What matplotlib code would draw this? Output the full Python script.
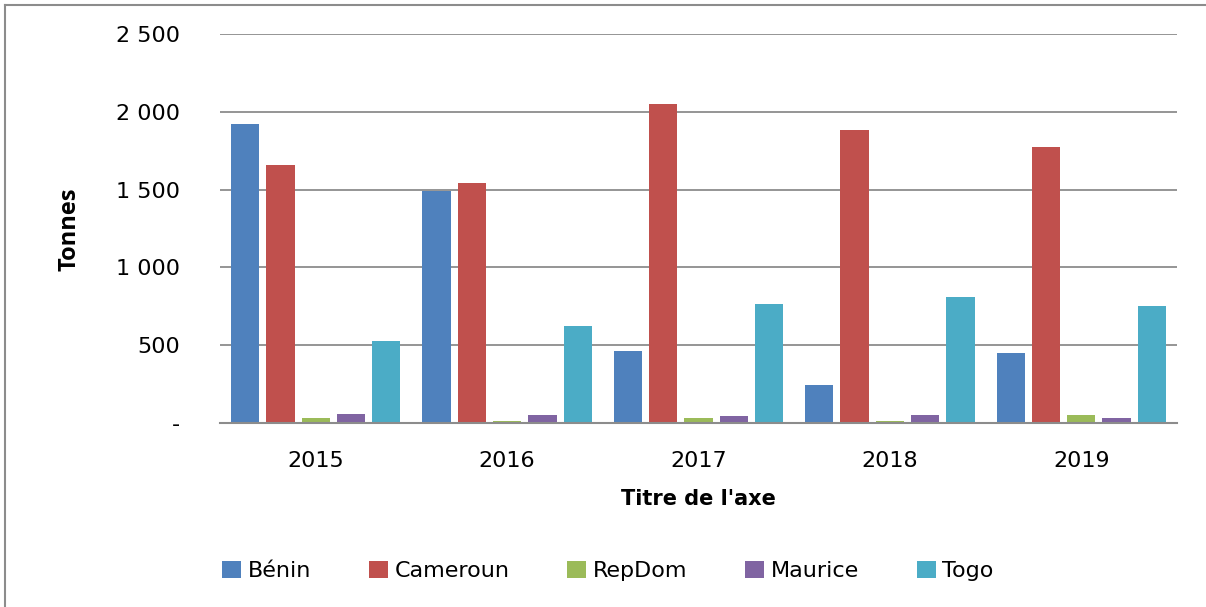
import numpy as np
import matplotlib.pyplot as plt
from matplotlib.lines import Line2D

years = ['2015', '2016', '2017', '2018', '2019']
countries = ['Bénin', 'Cameroun', 'RepDom', 'Maurice', 'Togo']
benin = [1920, 1490, 465, 245, 452]
cameroun = [1660, 1545, 2050, 1884, 1775]
repdom = [30, 15, 34, 10, 49]
maurice = [60, 50, 47, 51, 32]
togo = [528, 625, 765, 810, 755]
series = [benin, cameroun, repdom, maurice, togo]
colors = ['#4F81BD', '#C0504D', '#9BBB59', '#8064A2', '#4BACC6']

fig = plt.figure(figsize=(12.06, 6.07), dpi=100)
ax = fig.add_axes([220/1206, 1-423/607, 957/1206, 389/607])

x = np.arange(len(years))
step = 0.1845
width = 0.148
for i, (vals, col) in enumerate(zip(series, colors)):
    ax.bar(x + (i-2)*step, vals, width, color=col, label=countries[i],
           linewidth=0, zorder=3)

ax.set_xlim(-0.5, 4.5)
ax.set_ylim(0, 2500)
ax.set_yticks([0, 500, 1000, 1500, 2000, 2500])
ax.set_yticklabels(['-', '500', '1 000', '1 500', '2 000', '2 500'])
ax.set_xticks(x)
ax.set_xticklabels(years)
ax.tick_params(axis='y', length=0, pad=29, labelsize=16)
ax.tick_params(axis='x', length=0, pad=20, labelsize=16)
ax.grid(axis='y', color='#8c8c8c', linewidth=1.3, zorder=0)
for s in ['left', 'right', 'top']:
    ax.spines[s].set_visible(False)
ax.spines['bottom'].set_color('#8c8c8c')
ax.spines['bottom'].set_linewidth(1.5)
ax.spines['bottom'].set_zorder(4)

ax.set_xlabel("Titre de l'axe", fontsize=15, fontweight='bold', labelpad=13)
fig.text(69/1206, 1-229/607, 'Tonnes', rotation=90, fontsize=17,
         fontweight='bold', family='Open Sans', ha='center', va='center')

ax.legend(loc='center', bbox_to_anchor=(608/1206, 1-571/607),
          bbox_transform=fig.transFigure, ncol=5, frameon=False,
          prop={'size': 16}, handlelength=0.85, handleheight=0.85,
          handletextpad=0.3, columnspacing=2.6)

# outer frame (only top and left edges are visible in the crop)
fig.add_artist(Line2D([5/1206, 1.05], [1-5/607, 1-5/607], color='#8c8c8c',
                      linewidth=1.5, transform=fig.transFigure))
fig.add_artist(Line2D([5/1206, 5/1206], [-0.05, 1-5/607], color='#8c8c8c',
                      linewidth=1.5, transform=fig.transFigure))

fig.savefig('out.png', dpi=100)
